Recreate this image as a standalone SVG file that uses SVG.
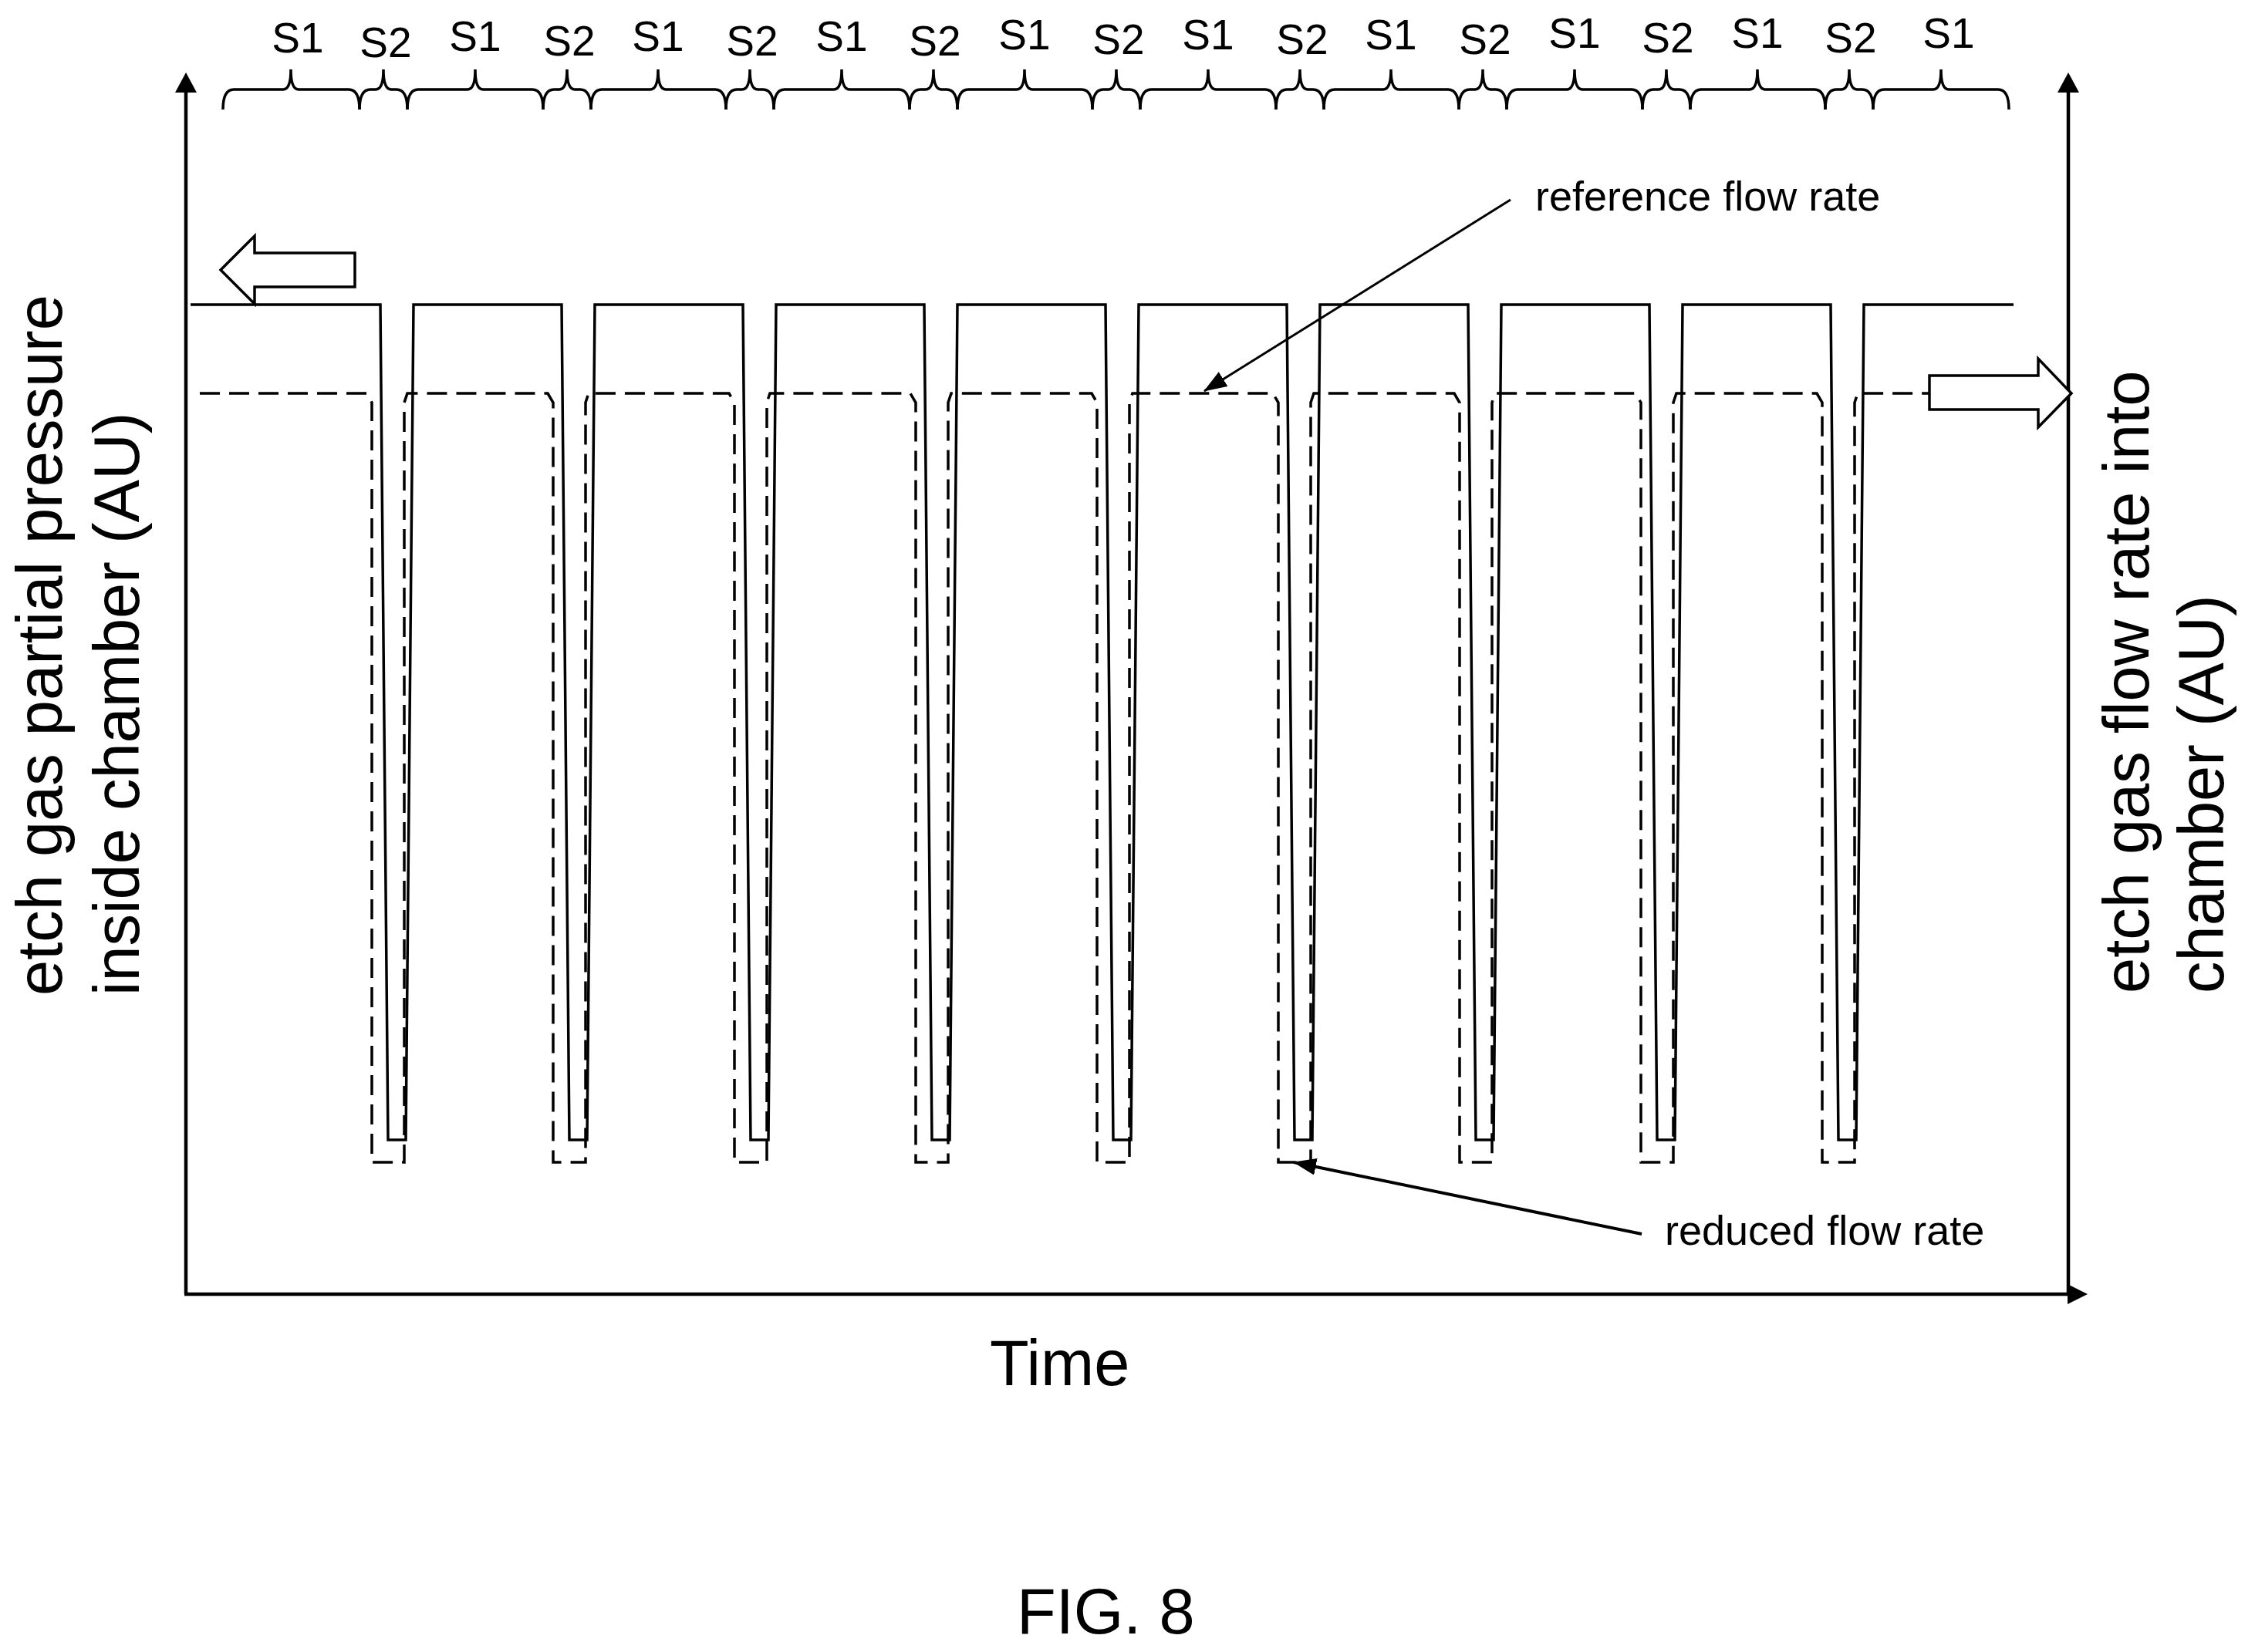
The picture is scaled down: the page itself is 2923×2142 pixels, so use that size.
<svg xmlns="http://www.w3.org/2000/svg" width="2923" height="2142" viewBox="0 0 2923 2142">
<style>
text{font-family:"Liberation Sans",Arial,sans-serif;fill:#000}
.ln{fill:none;stroke:#000;stroke-width:3.5}
.br{fill:none;stroke:#000;stroke-width:3.5}
.ds{fill:none;stroke:#000;stroke-width:3.5;stroke-dasharray:26 12}
.ax{stroke:#000;stroke-width:4.5;fill:none}
.s{font-size:55px;text-anchor:middle}
.lab{font-size:83px}
.ann{font-size:54px}
</style>
<defs>
<marker id="ah" markerWidth="10" markerHeight="8" refX="9" refY="4" orient="auto" markerUnits="userSpaceOnUse" viewBox="0 0 10 8">
<path d="M0,0 L10,4 L0,8 z" fill="#000"/>
</marker>
<marker id="ah2" markerWidth="30" markerHeight="22" refX="29" refY="11" orient="auto" markerUnits="userSpaceOnUse">
<path d="M0,0 L30,11 L0,22 z" fill="#000"/>
</marker>
</defs>
<rect width="2923" height="2142" fill="#fff"/>
<g id="axes">
<line class="ax" x1="241" y1="1678" x2="241" y2="116"/>
<polygon points="241,94 227,120 255,120" fill="#000"/>
<line class="ax" x1="2681" y1="1678" x2="2681" y2="116"/>
<polygon points="2681,94 2667,120 2695,120" fill="#000"/>
<line class="ax" x1="239" y1="1678" x2="2682" y2="1678" stroke-width="6"/>
<polygon points="2706,1678 2680,1665 2680,1691" fill="#000"/>
</g>
<g id="braces">
<path class="br" d="M289,142 Q289,116 303,116 H367 Q377,116 377,90 Q377,116 387,116 H452 Q466,116 466,142"/>
<path class="br" d="M528,142 Q528,116 542,116 H606 Q616,116 616,90 Q616,116 626,116 H690 Q704,116 704,142"/>
<path class="br" d="M766,142 Q766,116 780,116 H843 Q853,116 853,90 Q853,116 863,116 H927 Q941,116 941,142"/>
<path class="br" d="M1003,142 Q1003,116 1017,116 H1081 Q1091,116 1091,90 Q1091,116 1101,116 H1165 Q1179,116 1179,142"/>
<path class="br" d="M1241,142 Q1241,116 1255,116 H1318 Q1328,116 1328,90 Q1328,116 1338,116 H1402 Q1416,116 1416,142"/>
<path class="br" d="M1478,142 Q1478,116 1492,116 H1556 Q1566,116 1566,90 Q1566,116 1576,116 H1640 Q1654,116 1654,142"/>
<path class="br" d="M1716,142 Q1716,116 1730,116 H1793 Q1803,116 1803,90 Q1803,116 1813,116 H1877 Q1891,116 1891,142"/>
<path class="br" d="M1953,142 Q1953,116 1967,116 H2031 Q2041,116 2041,90 Q2041,116 2051,116 H2115 Q2129,116 2129,142"/>
<path class="br" d="M2191,142 Q2191,116 2205,116 H2268 Q2278,116 2278,90 Q2278,116 2288,116 H2352 Q2366,116 2366,142"/>
<path class="br" d="M2428,142 Q2428,116 2442,116 H2506 Q2516,116 2516,90 Q2516,116 2526,116 H2590 Q2604,116 2604,142"/>
<path class="br" d="M466,142 Q466,116 480,116 H487 Q497,116 497,90 Q497,116 507,116 H514 Q528,116 528,142"/>
<path class="br" d="M704,142 Q704,116 718,116 H725 Q735,116 735,90 Q735,116 745,116 H752 Q766,116 766,142"/>
<path class="br" d="M941,142 Q941,116 955,116 H962 Q972,116 972,90 Q972,116 982,116 H989 Q1003,116 1003,142"/>
<path class="br" d="M1179,142 Q1179,116 1193,116 H1200 Q1210,116 1210,90 Q1210,116 1220,116 H1227 Q1241,116 1241,142"/>
<path class="br" d="M1416,142 Q1416,116 1430,116 H1437 Q1447,116 1447,90 Q1447,116 1457,116 H1464 Q1478,116 1478,142"/>
<path class="br" d="M1654,142 Q1654,116 1668,116 H1675 Q1685,116 1685,90 Q1685,116 1695,116 H1702 Q1716,116 1716,142"/>
<path class="br" d="M1891,142 Q1891,116 1905,116 H1912 Q1922,116 1922,90 Q1922,116 1932,116 H1939 Q1953,116 1953,142"/>
<path class="br" d="M2129,142 Q2129,116 2143,116 H2150 Q2160,116 2160,90 Q2160,116 2170,116 H2177 Q2191,116 2191,142"/>
<path class="br" d="M2366,142 Q2366,116 2380,116 H2387 Q2397,116 2397,90 Q2397,116 2407,116 H2414 Q2428,116 2428,142"/>
<text class="s" x="386" y="68">S1</text>
<text class="s" x="616" y="66">S1</text>
<text class="s" x="853" y="66">S1</text>
<text class="s" x="1091" y="66">S1</text>
<text class="s" x="1328" y="64">S1</text>
<text class="s" x="1566" y="64">S1</text>
<text class="s" x="1803" y="64">S1</text>
<text class="s" x="2041" y="62">S1</text>
<text class="s" x="2278" y="62">S1</text>
<text class="s" x="2526" y="62">S1</text>
<text class="s" x="500" y="74">S2</text>
<text class="s" x="738" y="72">S2</text>
<text class="s" x="975" y="72">S2</text>
<text class="s" x="1212" y="72">S2</text>
<text class="s" x="1450" y="70">S2</text>
<text class="s" x="1688" y="70">S2</text>
<text class="s" x="1925" y="70">S2</text>
<text class="s" x="2162" y="68">S2</text>
<text class="s" x="2399" y="68">S2</text>
</g>
<g id="pressure-curve">
<path class="ln" d="M247,395 H493 L503,1478 H526 L536,395 H728 L738,1478 H761 L771,395 H963 L973,1478 H996 L1006,395 H1198 L1208,1478 H1231 L1241,395 H1433 L1443,1478 H1466 L1476,395 H1668 L1678,1478 H1701 L1711,395 H1903 L1913,1478 H1936 L1946,395 H2138 L2148,1478 H2171 L2181,395 H2373 L2383,1478 H2406 L2416,395 H2610"/>
</g>
<g id="flow-curve">
<path class="ds" d="M259,510 H475 L482,522 V1507 H524 V522 L528,510 H710 L717,522 V1507 H759 V522 L763,510 H945 L952,522 V1507 H994 V522 L998,510 H1180 L1187,522 V1507 H1229 V522 L1233,510 H1415 L1422,522 V1507 H1464 V522 L1468,510 H1650 L1657,522 V1507 H1699 V522 L1703,510 H1885 L1892,522 V1507 H1934 V522 L1938,510 H2120 L2127,522 V1507 H2169 V522 L2173,510 H2355 L2362,522 V1507 H2404 V522 L2408,510 H2501"/>
</g>
<g id="arrow-left">
<polygon points="286,350 330,306 330,328 460,328 460,372 330,372 330,394" fill="#fff" stroke="#000" stroke-width="3.5"/>
</g>
<g id="arrow-right">
<polygon points="2501,487 2642,487 2642,465 2685,510 2642,554 2642,531 2501,531" fill="#fff" stroke="#000" stroke-width="3.5"/>
</g>
<g id="connectors">
<line x1="1958" y1="259" x2="1561" y2="507" stroke="#000" stroke-width="3" marker-end="url(#ah2)"/>
<line x1="2128" y1="1600" x2="1677" y2="1507" stroke="#000" stroke-width="4" marker-end="url(#ah2)"/>
</g>
<g id="labels">
<text class="ann" x="1990" y="273">reference flow rate</text>
<text class="ann" x="2158" y="1614">reduced flow rate</text>
<text class="lab" transform="translate(80,1291) rotate(-90)">etch gas partial pressure</text>
<text class="lab" transform="translate(180,1291) rotate(-90)">inside chamber (AU)</text>
<text class="lab" transform="translate(2785,1288) rotate(-90)">etch gas flow rate into</text>
<text class="lab" transform="translate(2882,1288) rotate(-90)">chamber (AU)</text>
<text class="lab" x="1283" y="1796" font-size="80">Time</text>
<text class="lab" x="1318" y="2118" font-size="80">FIG. 8</text>
</g>
</svg>
